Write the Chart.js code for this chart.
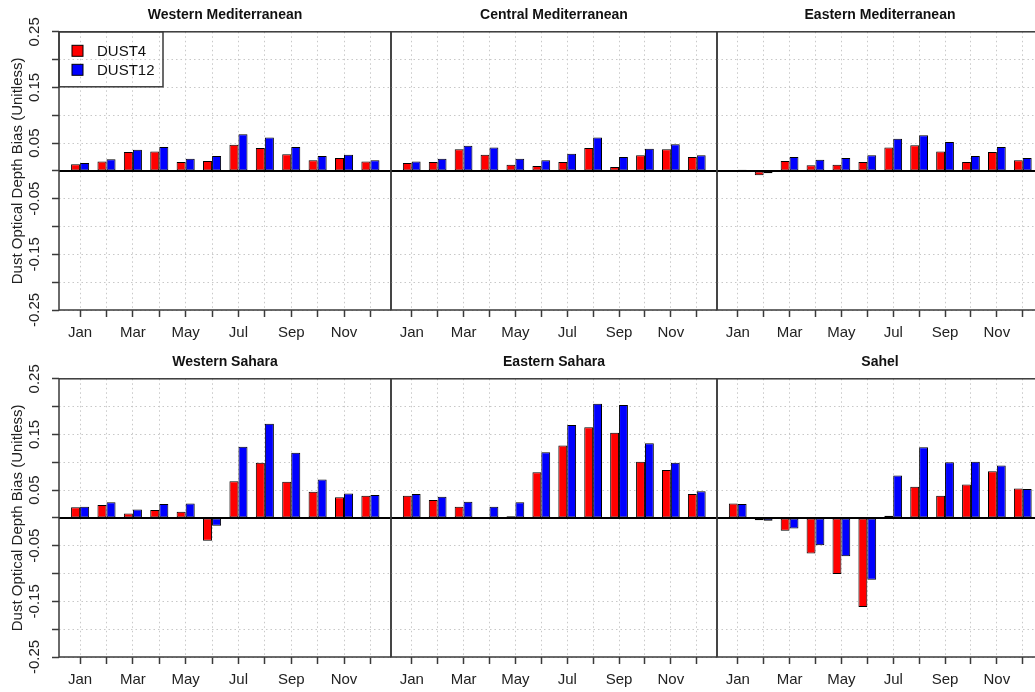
<!DOCTYPE html>
<html>
<head>
<meta charset="utf-8">
<script src="https://cdn.jsdelivr.net/npm/chart.js@4"></script>
<style>
html,body{margin:0;padding:0;background:#fff;overflow:hidden;width:1035px;height:692px;}
canvas{position:absolute;}
</style>
</head>
<body>
<canvas id="c1" width="393" height="342" style="left:0px;top:0px"></canvas>
<canvas id="c2" width="330" height="342" style="left:389px;top:0px"></canvas>
<canvas id="c3" width="330" height="342" style="left:715px;top:0px"></canvas>
<canvas id="c4" width="393" height="342" style="left:0px;top:347px"></canvas>
<canvas id="c5" width="330" height="342" style="left:389px;top:347px"></canvas>
<canvas id="c6" width="330" height="342" style="left:715px;top:347px"></canvas>
<script>
const months = ['Jan','Feb','Mar','Apr','May','Jun','Jul','Aug','Sep','Oct','Nov','Dec'];
const monthLabels = ['Jan','','Mar','','May','','Jul','','Sep','','Nov',''];
const yTicks = [-0.25,-0.2,-0.15,-0.1,-0.05,0,0.05,0.1,0.15,0.2,0.25];
const yTickLabels = ['-0.25','','-0.15','','-0.05','','0.05','','0.15','','0.25'];
const seriesNames = ['DUST4','DUST12'];
const yTitle = 'Dust Optical Depth Bias (Unitless)';

const westMedDust4  = [0.012,0.017,0.034,0.035,0.016,0.018,0.047,0.041,0.030,0.019,0.023,0.017];
const westMedDust12 = [0.014,0.021,0.038,0.043,0.022,0.027,0.066,0.060,0.043,0.027,0.029,0.019];
const centMedDust4  = [0.014,0.016,0.039,0.029,0.011,0.009,0.016,0.041,0.007,0.028,0.039,0.025];
const centMedDust12 = [0.017,0.022,0.045,0.042,0.022,0.019,0.031,0.060,0.025,0.040,0.048,0.028];
const eastMedDust4  = [0.000,-0.008,0.018,0.010,0.011,0.016,0.042,0.046,0.035,0.016,0.034,0.019];
const eastMedDust12 = [0.002,-0.004,0.025,0.020,0.023,0.028,0.058,0.064,0.052,0.027,0.043,0.023];
const westSahDust4  = [0.019,0.023,0.008,0.014,0.011,-0.041,0.066,0.099,0.065,0.047,0.037,0.040];
const westSahDust12 = [0.020,0.028,0.015,0.025,0.026,-0.014,0.128,0.169,0.117,0.069,0.044,0.041];
const eastSahDust4  = [0.040,0.032,0.020,0.001,0.003,0.082,0.130,0.163,0.153,0.101,0.086,0.043];
const eastSahDust12 = [0.043,0.038,0.029,0.020,0.028,0.118,0.167,0.205,0.203,0.134,0.099,0.048];
const sahelDust4    = [0.026,-0.004,-0.023,-0.064,-0.101,-0.160,0.004,0.056,0.040,0.060,0.084,0.053];
const sahelDust12   = [0.025,-0.005,-0.019,-0.049,-0.069,-0.111,0.076,0.127,0.100,0.101,0.094,0.052];

const FONT = '"Liberation Sans", Arial, Helvetica, sans-serif';

// zero line + box round each panel, like R's abline/box
const frame = {
  id:'frame',
  afterDatasetsDraw(c){
    const {ctx, chartArea:a} = c;
    const y0 = c.scales.y.getPixelForValue(0);
    ctx.save();
    ctx.strokeStyle='#000'; ctx.lineWidth=2;
    ctx.beginPath(); ctx.moveTo(a.left,y0); ctx.lineTo(a.right,y0); ctx.stroke();
    ctx.strokeStyle='#3a3a3a'; ctx.lineWidth=1.5;
    ctx.strokeRect(a.left,a.top,a.right-a.left,a.bottom-a.top);
    ctx.restore();
  }
};

const legendBox = {
  id:'legendBox',
  afterDraw(c){
    const {ctx, chartArea:a} = c;
    ctx.save();
    ctx.strokeStyle='#3a3a3a'; ctx.lineWidth=1.5;
    ctx.strokeRect(a.left, a.top, 104, 55);
    ctx.font = '15px '+FONT;
    ctx.textBaseline='middle';
    c.data.datasets.forEach((d,i)=>{
      const cy = a.top + 19 + i*19;
      ctx.fillStyle=d.backgroundColor;
      ctx.fillRect(a.left+13, cy-5.5, 11, 11);
      ctx.strokeStyle='#000'; ctx.lineWidth=1;
      ctx.strokeRect(a.left+13, cy-5.5, 11, 11);
      ctx.fillStyle='#111';
      ctx.fillText(d.label, a.left+38, cy+1);
    });
    ctx.restore();
  }
};

function makePanel(id, title, d4, d12, showY, withLegend){
  const pts = arr => arr.map((v,i)=>({x:i, y:v}));
  new Chart(document.getElementById(id), {
    type:'bar',
    data:{datasets:[
      {label:seriesNames[0], data:pts(d4), backgroundColor:'#ff0000', borderColor:'#000', borderWidth:1, borderSkipped:false},
      {label:seriesNames[1], data:pts(d12), backgroundColor:'#0000ff', borderColor:'#000', borderWidth:1, borderSkipped:false}
    ]},
    options:{
      responsive:false, animation:false, events:[],
      layout:{padding:{left:showY?0:2, right:2, top:0, bottom:0}},
      datasets:{bar:{categoryPercentage:0.685, barPercentage:1}},
      plugins:{
        legend:{display:false}, tooltip:{enabled:false},
        title:{display:true, text:title, fullSize:false, color:'#111',
          font:{family:FONT, size:14, weight:'bold'}, padding:{top:7, bottom:8}}
      },
      scales:{
        x:{type:'linear', min:-0.8, max:11.78, offset:false,
          afterBuildTicks:s=>{ s.ticks = months.map((m,i)=>({value:i})); },
          afterFit:s=>{ s.height = 32; },
          ticks:{autoSkip:false, maxRotation:0, padding:7, color:'#222',
            font:{family:FONT, size:15}, callback:(v,i)=>monthLabels[i]},
          grid:{offset:false, color:'#c8c8c8', lineWidth:1, tickLength:7, tickColor:'#3a3a3a', tickWidth:1.5, tickBorderDash:[]},
          border:{display:false, dash:[1.5,3]}
        },
        y:{min:-0.25, max:0.25,
          afterBuildTicks:s=>{ s.ticks = yTicks.map(v=>({value:v})); },
          afterFit:s=>{ s.width = showY ? 59 : 0; },
          ticks:{display:showY, autoSkip:false, minRotation:90, maxRotation:90, crossAlign:'center', padding:0,
            color:'#222', font:{family:FONT, size:15}, callback:(v,i)=>yTickLabels[i]},
          title:{display:showY, text:yTitle, color:'#222', font:{family:FONT, size:15}, padding:{top:9, bottom:0}},
          grid:{color:'#c8c8c8', lineWidth:1, drawTicks:showY, tickLength:7, tickColor:'#3a3a3a', tickWidth:1.5, tickBorderDash:[]},
          border:{display:false, dash:[1.5,3]}
        }
      }
    },
    plugins: withLegend ? [frame, legendBox] : [frame]
  });
}

makePanel('c1','Western Mediterranean', westMedDust4, westMedDust12, true, true);
makePanel('c2','Central Mediterranean', centMedDust4, centMedDust12, false, false);
makePanel('c3','Eastern Mediterranean', eastMedDust4, eastMedDust12, false, false);
makePanel('c4','Western Sahara', westSahDust4, westSahDust12, true, false);
makePanel('c5','Eastern Sahara', eastSahDust4, eastSahDust12, false, false);
makePanel('c6','Sahel', sahelDust4, sahelDust12, false, false);
</script>
</body>
</html>
